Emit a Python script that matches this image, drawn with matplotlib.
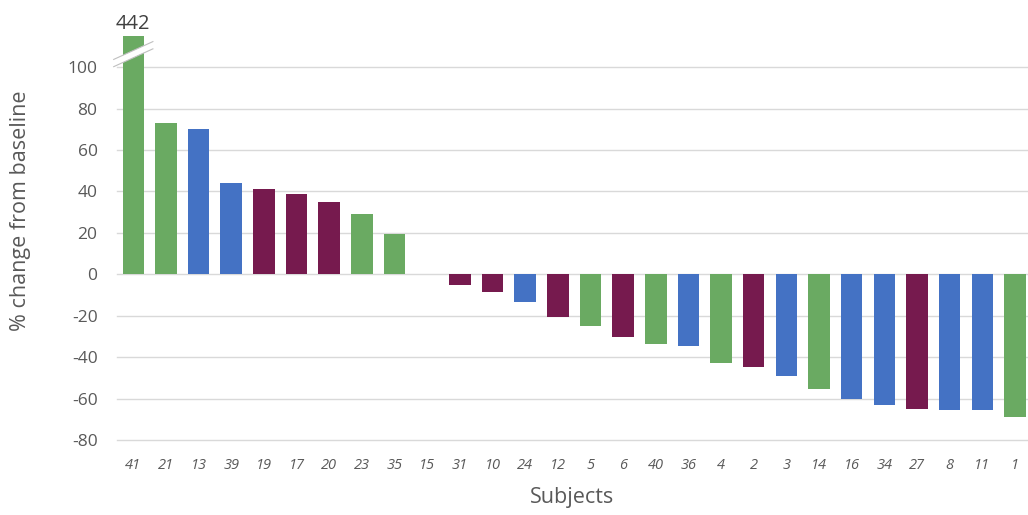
import matplotlib
matplotlib.use("Agg")
import matplotlib.pyplot as plt
from matplotlib.patches import Polygon

subjects = ["41", "21", "13", "39", "19", "17", "20", "23", "35", "15", "31", "10", "24", "12",
            "5", "6", "40", "36", "4", "2", "3", "14", "16", "34", "27", "8", "11", "1"]
values = [442, 73, 70, 44, 41, 38.5, 35, 29, 19.6, 0, -5, -8.5, -13.6, -20.7,
          -24.9, -30.4, -33.7, -34.7, -43, -44.8, -49, -55.3, -60.4, -63.1, -64.9, -65.7, -65.7, -69]
groups = ["G", "G", "B", "B", "M", "M", "M", "G", "G", "G", "M", "M", "B", "M",
          "G", "M", "G", "B", "G", "M", "B", "G", "B", "B", "M", "B", "B", "G"]
palette = {"G": "#6AAA62", "B": "#4472C4", "M": "#761A4E"}
yticks = [-80, -60, -40, -20, 0, 20, 40, 60, 80, 100]

plt.rcParams['font.family'] = ['Open Sans', 'DejaVu Sans']

fig = plt.figure(figsize=(10.28, 5.15), dpi=100)
ax = fig.add_axes([0.1138, 0.1456, 0.8862, 0.7845])

x = list(range(len(subjects)))
ax.bar(x, values, width=0.66, color=[palette[g] for g in groups], zorder=3)

ax.set_ylim(-80, 115)
ax.set_xlim(-0.5, 27.4)
ax.set_yticks(yticks)
ax.set_yticklabels([str(t) for t in yticks], fontsize=12.5, color="#595959")
ax.set_xticks(x)
ax.set_xticklabels(subjects, fontsize=10.5, style="italic", color="#595959")
ax.tick_params(axis="y", length=0, pad=14)
ax.tick_params(axis="x", length=0, pad=13)
ax.grid(axis="y", color="#D9D9D9", linewidth=1, zorder=0)
for gl in ax.get_ygridlines():
    gl.set_clip_on(False)
for s in ax.spines.values():
    s.set_visible(False)

ax.set_ylabel("% change from baseline", fontsize=15.5, color="#595959")
ax.yaxis.set_label_coords(-0.0944, 0.568)
ax.set_xlabel("Subjects", fontsize=15.5, color="#595959", labelpad=10)

# axis break on the first bar
x0 = x[0]
band = Polygon([(x0 - 0.55, 100.5), (x0 + 0.55, 108.5), (x0 + 0.55, 112.0), (x0 - 0.55, 104.0)],
               closed=True, facecolor="white", edgecolor="none", zorder=4, clip_on=False)
ax.add_patch(band)
ax.plot([x0 - 0.6, x0 + 0.6], [100.2, 108.8], color="#BFBFBF", lw=0.8, zorder=5, clip_on=False)
ax.plot([x0 - 0.6, x0 + 0.6], [103.7, 112.3], color="#BFBFBF", lw=0.8, zorder=5, clip_on=False)

ax.text(x0, 116, str(values[0]), ha="center", va="bottom", fontsize=14.5, color="#404040", clip_on=False)

fig.savefig("out.png", dpi=100)
